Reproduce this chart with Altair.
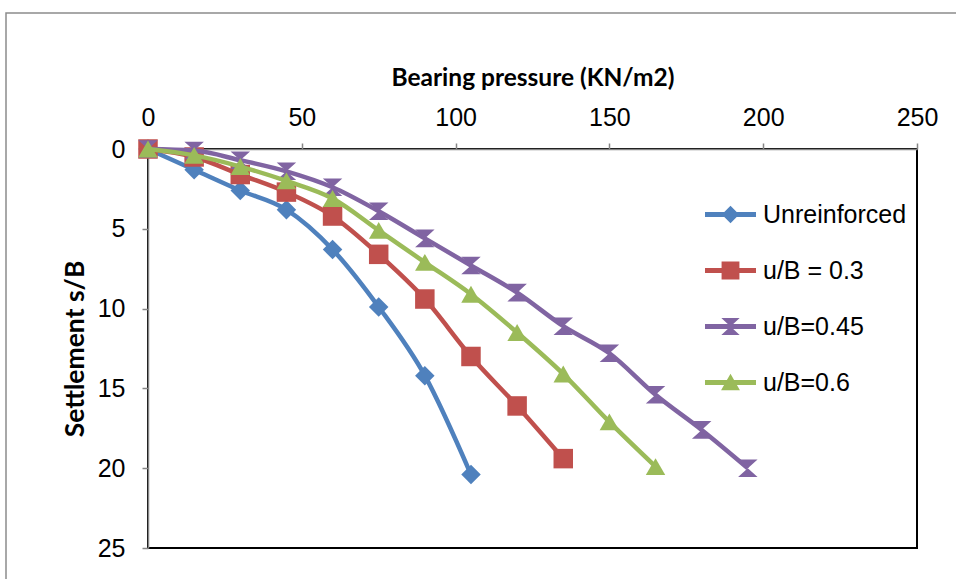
import altair as alt
import pandas as pd

# ---- data ----
series_names = ["Unreinforced", "u/B = 0.3", "u/B=0.45", "u/B=0.6"]
series_colors = ["#4F81BD", "#C0504D", "#8064A2", "#9BBB59"]

pressure_unreinforced = [0, 15, 30, 45, 60, 75, 90, 105]
settlement_unreinforced = [0, 1.3, 2.6, 3.8, 6.3, 9.9, 14.2, 20.4]

pressure_u03 = [0, 15, 30, 45, 60, 75, 90, 105, 120, 135]
settlement_u03 = [0, 0.5, 1.6, 2.7, 4.2, 6.6, 9.4, 13.0, 16.1, 19.4]

pressure_u045 = [0, 15, 30, 45, 60, 75, 90, 105, 120, 135, 150, 165, 180, 195]
settlement_u045 = [0, 0.1, 0.7, 1.4, 2.4, 3.9, 5.6, 7.3, 9.0, 11.1, 12.8, 15.4, 17.6, 20.0]

pressure_u06 = [0, 15, 30, 45, 60, 75, 90, 105, 120, 135, 150, 165]
settlement_u06 = [0, 0.4, 1.1, 2.0, 3.1, 5.1, 7.1, 9.1, 11.5, 14.1, 17.1, 19.9]

x_ticks = [0, 50, 100, 150, 200, 250]
y_ticks = [0, 5, 10, 15, 20, 25]

# marker shapes on the plot
hourglass = "M-1,-0.9H1L0,0L1,0.9H-1L0,0Z"
marker_shapes = ["diamond", "square", hourglass, "triangle-up"]

# legend symbols: line segment + marker
legend_shapes = [
    "M-1,-0.1H1V0.1H-1Z M0,-0.34L0.34,0L0,0.34L-0.34,0Z",
    "M-1,-0.1H1V0.1H-1Z M-0.35,-0.35H0.35V0.35H-0.35Z",
    "M-1,-0.1H1V0.1H-1Z M-0.36,-0.33H0.36L0,0L0.36,0.33H-0.36L0,0Z",
    "M-1,-0.1H1V0.1H-1Z M0,-0.34L0.37,0.3H-0.37Z",
]

pressures = [pressure_unreinforced, pressure_u03, pressure_u045, pressure_u06]
settlements = [settlement_unreinforced, settlement_u03, settlement_u045, settlement_u06]

rows = []
for name, px, sy in zip(series_names, pressures, settlements):
    for p, s in zip(px, sy):
        rows.append({"series": name, "series_l": name, "pressure": p, "settlement": s})
df = pd.DataFrame(rows)

x_enc = alt.X(
    "pressure:Q",
    scale=alt.Scale(domain=[0, 250]),
    axis=alt.Axis(
        orient="top", values=x_ticks, grid=False,
        labelFont="Liberation Sans", labelFontSize=25, labelColor="black",
        labelPadding=13, labelFlush=False, labelOverlap=False,
        tickSize=6, tickColor="#868686", tickWidth=1.5,
        domainColor="#868686", domainWidth=1.5,
        title="Bearing pressure (KN/m2)", titleFont="Lato", titleFontSize=24.5,
        titleFontWeight="bold", titleColor="black", titleY=-64,
        titleBaseline="alphabetic",
    ),
)
y_enc = alt.Y(
    "settlement:Q",
    scale=alt.Scale(domain=[0, 25], reverse=True),
    axis=alt.Axis(
        orient="left", values=y_ticks, grid=False,
        labelFont="Liberation Sans", labelFontSize=25, labelColor="black",
        labelPadding=17, labelFlush=False, labelOverlap=False,
        tickSize=6, tickColor="#868686", tickWidth=1.5,
        domainColor="#868686", domainWidth=1.5,
        title="Settlement s/B", titleFont="Lato", titleFontSize=26.5,
        titleFontWeight="bold", titleColor="black", titleX=-65,
        titleBaseline="alphabetic",
    ),
)

color_scale = alt.Scale(domain=series_names, range=series_colors)

layers = []
# decorative outer frame of the figure
frame = alt.Chart(pd.DataFrame({"k": [0]})).mark_rect(
    fill=None, stroke="#8c8c8c", strokeWidth=1.5, clip=False
).encode(
    x=alt.value(-142), x2=alt.value(830), y=alt.value(-136), y2=alt.value(445)
)
layers.append(frame)

for name in series_names:
    sub = alt.Chart(df).transform_filter(alt.datum.series == name)
    line = sub.mark_line(strokeWidth=4.5, interpolate="monotone").encode(
        x=x_enc, y=y_enc,
        color=alt.Color("series:N", scale=color_scale, legend=None),
    )
    pts = sub.mark_point(filled=True, opacity=1, size=380).encode(
        x=x_enc, y=y_enc,
        color=alt.Color("series:N", scale=color_scale, legend=None),
        shape=alt.Shape("series:N", scale=alt.Scale(domain=series_names, range=marker_shapes), legend=None),
    )
    layers += [line, pts]

legend_props = dict(
    title=None, orient="none", legendX=557, legendY=40, padding=0,
    rowPadding=17, symbolSize=2601, symbolStrokeWidth=0, symbolOpacity=1,
    labelFont="Liberation Sans", labelFontSize=25, labelColor="black",
    labelOffset=7, labelLimit=400,
)
legend_layer = alt.Chart(df).transform_filter("false").mark_point(filled=True, opacity=1).encode(
    x=x_enc, y=y_enc,
    color=alt.Color(
        "series_l:N", scale=alt.Scale(domain=series_names, range=series_colors),
        legend=alt.Legend(**legend_props),
    ),
    shape=alt.Shape(
        "series_l:N", scale=alt.Scale(domain=series_names, range=legend_shapes),
        legend=alt.Legend(**legend_props),
    ),
)
layers.append(legend_layer)

chart = alt.layer(*layers).resolve_scale(
    color="independent", shape="independent"
).properties(
    width=769, height=399,
    autosize=alt.AutoSizeParams(type="none"),
    padding={"left": 148, "top": 149, "right": 39, "bottom": 31},
    background="white",
).configure_view(stroke="black", strokeWidth=2)

chart.save("out.html", embed_options={"renderer": "svg", "actions": False})
